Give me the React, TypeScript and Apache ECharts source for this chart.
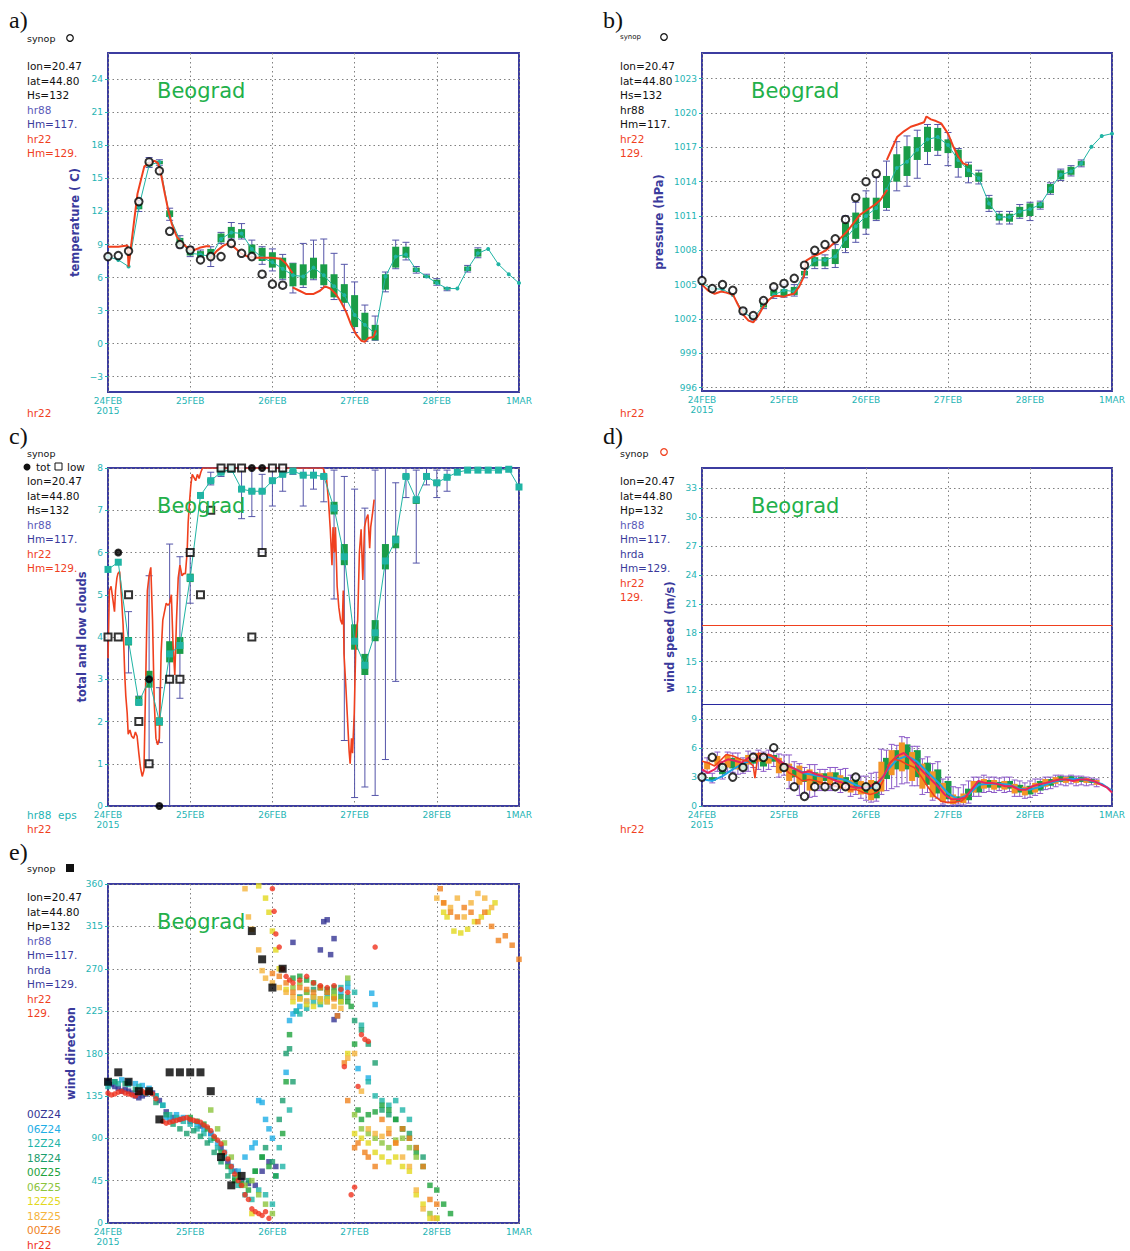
import React, { useEffect, useRef } from "react";
import * as echarts from "echarts";

// ---------- common ----------
const DAY_LABELS = ["24FEB\n2015", "25FEB", "26FEB", "27FEB", "28FEB", "1MAR"];
const STEP_HOURS = 3;

// ---------- panel a : temperature ----------
const tempTicks = [-3, 0, 3, 6, 9, 12, 15, 18, 21, 24];
const tempObs = [[0,7.9],[3,8.0],[6,8.4],[9,12.9],[12,16.5],[15,15.7],[18,10.2],[21,9.0],[24,8.5],[27,7.6],[30,7.9],[33,7.9],[36,9.1],[39,8.2],[42,7.9],[45,6.3],[48,5.4],[51,5.3]];
const tempDet = [[0,8.8],[3,8.8],[5.7,8.9],[6,7.0],[8.6,13.6],[10.6,16.1],[12.1,16.4],[13.6,16.6],[14.6,16.4],[15.6,15.2],[16.6,13.6],[17.6,12.1],[18.6,10.9],[20.1,9.7],[21.7,9.1],[23.7,8.6],[25.2,8.5],[26.7,8.7],[28.7,8.85],[29.8,8.85],null,
  [29.8,7.7],[31.7,8.4],[33.7,8.9],[35.2,9.1],[36.7,8.8],[38.8,8.2],[40.8,7.9],[42.8,7.8],[44.8,7.8],[47.8,7.8],[50.4,7.7],[51.9,7.3],[53.9,6.4],null,
  [53.9,5.1],[55.9,4.8],[57.9,4.5],[59.9,4.5],[61.9,4.8],[63.4,5.2],[64.9,5.0],[66.5,4.5],[68,3.8],[69.5,2.9],[71,1.7],[72.5,0.8],[74,0.25],[75,0.15],[76,0.5],[77.5,0.6],[78.2,1.2]];
const tempMean = [7.9,7.6,7.0,12.4,16.2,16.5,11.5,9.4,8.2,8.1,7.9,9.5,10.1,10.0,8.6,7.8,7.4,6.8,6.2,6.1,6.9,6.2,5.2,4.4,2.6,1.7,0.9,6.1,7.9,8.1,6.7,6.1,5.5,5.0,5.0,6.8,8.2,8.6,7.2,6.3,5.5];
// [hour, min, q1, q3, max]
const tempBox = [[9,12.0,12.2,12.7,13.0],[12,16.0,16.1,16.5,16.9],[15,16.2,16.3,16.6,16.7],[18,11.2,11.5,12.1,12.3],[21,8.7,8.9,9.6,9.8],[24,7.9,8.0,8.6,8.8],[27,7.8,7.9,8.4,8.5],[30,7.0,7.8,8.6,8.8],[33,9.1,9.2,10.0,10.1],[36,9.5,9.6,10.6,11.0],[39,9.5,9.6,10.4,10.9],[42,7.9,8.2,9.0,9.4],[45,7.2,7.5,8.7,8.8],[48,6.6,6.9,8.3,8.6],[51,5.8,5.9,7.8,8.1],[54,4.6,5.2,7.3,7.3],[57,5.1,5.3,7.2,9.1],[60,5.8,5.9,7.8,9.4],[63,5.1,5.3,7.2,9.5],[66,4.0,4.2,6.3,8.2],[69,3.0,3.7,5.4,7.2],[72,1.0,1.5,4.4,5.6],[75,0.2,0.3,2.8,3.5],[78,0.3,0.3,1.7,2.5],[81,4.7,4.9,6.3,6.5],[84,6.8,6.9,8.8,9.4],[87,7.6,7.8,8.8,9.2],[90,6.4,6.5,6.9,7.0],[93,6.0,6.0,6.2,6.3],[96,5.3,5.4,5.8,5.9],[99,4.8,4.9,5.1,5.1],[105,6.5,6.6,7.0,7.1],[108,7.8,7.9,8.6,8.7]];

// ---------- panel b : pressure ----------
const presTicks = [996, 999, 1002, 1005, 1008, 1011, 1014, 1017, 1020, 1023];
const presObs = [[0,1005.35],[3,1004.65],[6,1005.0],[9,1004.5],[12,1002.7],[15,1002.3],[18,1003.6],[21,1004.8],[24,1005.1],[27,1005.55],[30,1006.7],[33,1008.0],[36,1008.5],[39,1009.0],[42,1010.7],[45,1012.6],[48,1014.0],[51,1014.7]];
const presDet = [[0,1005.0],[1.7,1004.5],[3.7,1004.2],[5.6,1004.4],[7.1,1004.3],[9.1,1004.1],[10.6,1003.2],[12.1,1002.35],[13.6,1001.85],[15,1001.7],[16.5,1002.3],[18,1003.1],[19.5,1003.65],[21,1004.0],[22.5,1004.0],[24,1003.95],[25.4,1004.1],[26.9,1004.2],[28.4,1004.8],[29.8,1005.7],[30.5,1007.1],[32.4,1007.45],[34.4,1007.7],[36.3,1008.0],[38.3,1008.55],[40.3,1009.0],[42.3,1009.6],[44.3,1010.35],[46.2,1011.1],[48.2,1011.5],[50.2,1011.9],[52.2,1012.4],[54.2,1013.3],null,
  [54.1,1015.9],[55.6,1016.9],[57.1,1017.9],[59.1,1018.4],[61.1,1018.8],[63.1,1019.0],[65,1019.2],[65.7,1019.7],[67,1019.45],[68.5,1019.3],[70,1019.1],[72,1018.2],[73.5,1017.1],[75,1016.2],[76.4,1015.6],[77.9,1015.45]];
const presMean = [1005.1,1004.65,1004.6,1004.1,1002.6,1002.05,1003.2,1004.1,1004.5,1004.4,1006.0,1007.15,1007.15,1007.45,1009.0,1010.1,1011.0,1011.7,1013.3,1015.2,1015.75,1016.8,1017.7,1017.9,1017.2,1015.9,1015.0,1014.3,1012.1,1010.9,1010.9,1011.4,1011.6,1012.0,1013.4,1014.6,1014.9,1015.6,1017.05,1018.0,1018.2];
const presBox = [[12,1002.4,1002.5,1002.8,1002.9],[15,1001.9,1002.0,1002.2,1002.3],[18,1002.9,1003.0,1003.5,1003.7],[21,1003.8,1004.0,1004.5,1004.7],[24,1003.9,1004.0,1004.6,1005.0],[27,1004.0,1004.1,1004.8,1005.0],[30,1005.6,1005.8,1006.2,1006.4],[33,1006.4,1006.6,1007.4,1007.6],[36,1006.4,1006.6,1007.4,1007.6],[39,1006.5,1006.8,1008.1,1008.5],[42,1007.8,1008.2,1010.4,1011.0],[45,1008.7,1009.0,1011.3,1012.2],[48,1009.4,1009.9,1012.6,1013.2],[51,1010.6,1010.7,1012.6,1014.4],[54,1011.5,1011.7,1014.5,1015.8],[57,1013.2,1014.0,1016.4,1017.5],[60,1013.6,1014.5,1017.1,1018.0],[63,1014.3,1015.9,1017.9,1018.5],[66,1015.5,1016.6,1018.8,1019.0],[69,1016.3,1016.7,1018.7,1019.0],[72,1015.4,1016.5,1017.7,1018.3],[75,1014.4,1015.2,1016.8,1016.9],[78,1013.9,1014.4,1015.5,1015.7],[81,1013.8,1014.0,1014.8,1015.0],[84,1011.4,1011.6,1012.6,1012.8],[87,1010.3,1010.6,1011.2,1011.4],[90,1010.3,1010.5,1011.2,1011.4],[93,1010.8,1010.9,1011.8,1012.0],[96,1010.6,1011.0,1012.1,1012.2],[99,1011.6,1011.7,1012.2,1012.3],[102,1012.9,1013.0,1013.8,1013.9],[105,1014.1,1014.2,1015.0,1015.1],[108,1014.5,1014.6,1015.3,1015.4],[111,1015.3,1015.4,1015.8,1015.9]];

// ---------- panel c : clouds ----------
const cloudLowObs = [[0,4],[3,4],[6,5],[9,2],[12,1],[18,3],[21,3],[24,6],[27,5],[30,7],[33,8],[36,8],[39,8],[42,4],[45,6],[48,8],[51,8]];
const cloudTotObs = [[3,6],[12,3],[15,0],[42,8],[45,8]];
const cloudMean = [5.6,5.77,3.9,2.45,3.0,2.0,3.6,3.8,5.4,7.35,7.7,7.9,7.97,7.5,7.45,7.45,7.7,7.85,7.93,7.83,7.83,7.8,7.05,5.9,3.9,3.33,4.1,5.8,6.3,7.8,7.25,7.8,7.65,7.78,7.9,7.95,7.95,7.95,7.95,7.97,7.55];
const cloudBox = [[6,3.15,3.8,4.0,4.6],[9,2.4,2.4,2.6,2.6],[12,1.0,2.8,3.2,5.45],[15,1.5,1.9,2.1,2.8],[18,0.0,3.4,3.9,6.2],[21,2.55,3.6,4.0,5.9],[24,4.8,5.3,5.5,6.0],[30,7.6,7.65,7.75,7.9],[33,7.8,7.85,7.95,8.0],[39,6.8,7.45,7.55,8.0],[42,6.85,7.4,7.5,8.0],[45,6.0,7.4,7.5,7.85],[48,7.1,7.65,7.75,8.0],[51,7.45,7.8,7.9,8.0],[54,7.85,7.9,7.95,8.0],[57,7.1,7.8,7.87,8.0],[60,7.5,7.8,7.87,8.0],[63,7.2,7.75,7.85,8.0],[66,4.9,6.9,7.2,7.95],[69,1.55,5.7,6.2,7.8],[72,0.2,3.7,4.3,7.5],[75,0.45,3.1,3.6,7.05],[78,0.25,3.9,4.4,7.95],[81,1.1,5.6,6.2,8.0],[84,2.95,6.1,6.4,7.65],[87,7.3,7.75,7.85,8.0],[90,5.75,7.15,7.3,7.95],[93,7.6,7.75,7.85,8.0],[96,7.3,7.6,7.7,7.95],[99,7.45,7.75,7.8,7.95]];
const cloudDet = [[0,3.5],[0.4,5.1],[0.9,5.2],[1.4,4.9],[1.9,4.6],[2.2,5.1],[2.6,5.4],[2.9,5.5],[3.4,5.55],[3.9,5.0],[4.4,4.3],[4.9,3.1],[5.2,2.6],[5.6,2.2],[5.9,1.7],[6.4,1.8],[6.9,1.65],[7.5,1.6],[8.0,1.75],[8.5,1.65],[9.0,1.25],[9.5,0.9],[10.0,0.7],[10.5,0.85],[11.0,2.9],[11.5,5.1],[12.0,5.45],[12.5,5.65],[13.0,4.4],[13.5,2.45],[14.0,1.6],[14.5,1.45],[15.0,1.6],[15.5,3.6],[16.0,4.4],[16.5,4.6],[17.0,4.8],[17.5,4.75],[18.0,4.8],[18.5,5.0],[19.0,3.8],[19.5,3.1],[20.0,4.4],[20.5,5.4],[21.0,5.7],[21.6,5.45],[22.1,5.5],[22.6,5.5],[23.1,6.0],[23.4,6.7],[23.8,7.2],[24.2,7.6],[24.6,7.85],[25.6,7.7],[26.1,7.85],[26.6,7.75],[27.1,7.9],[27.6,8.0],[40,8.0],[62.8,8.0],[63.8,7.75],[64.4,7.2],[64.9,6.55],[65.4,5.7],[65.7,6.6],[66.1,6.0],[66.4,6.6],[66.9,5.2],[67.4,4.7],[67.9,4.4],[68.4,4.3],[68.7,5.1],[68.9,3.6],[69.4,2.9],[69.9,2.1],[70.4,1.3],[70.7,1.0],[71.1,1.6],[71.4,1.25],[71.9,2.2],[72.4,4.0],[72.9,4.4],[73.4,6.0],[73.9,6.55],[74.4,5.35],[74.9,6.6],[75.4,6.8],[75.9,6.9],[76.4,6.1],[76.7,6.6],[77.2,6.9],[77.7,7.25]];

// ---------- panel d : wind speed ----------
const windTicks = [0, 3, 6, 9, 12, 15, 18, 21, 24, 27, 30, 33];
const windRefRed = 18.8;
const windRefBlue = 10.6;
const windObs = [[0,3.0],[3,5.05],[6,4.0],[9,3.0],[12,4.0],[15,5.05],[18,5.05],[21,6.05],[24,4.0],[27,2.0],[30,1.0],[33,2],[36,2],[39,2],[42,2],[45,3],[48,2],[51,2]];
const windDet = [[0,4.65],[1.7,4.5],[3.7,4.15],[5.6,4.8],[7.1,5.35],[9.1,5.2],[11.6,4.8],[13.6,4.65],[15,4.15],[15.5,2.9],[16,4.3],[16.5,5.5],[18.5,5.35],[20.5,5.2],[22.5,4.5],[24,4.0],[25.4,3.45],[27.4,3.1],[29.4,2.6],[31.4,2.75],[33.4,2.6],[35.3,2.4],[37.3,2.25],[39.3,2.05],[41.3,1.9],[43.3,1.7],[45.2,1.7],[47.2,1.4],[49.2,1.2],[51.2,1.4],[53.2,2.75],null,
  [54.2,4.15],[56.1,4.85],[58.1,4.7],[60.1,4.3],[62.1,4.0],[64.1,3.1],[66,2.05],[68,1.05],[70,0.5],[72,0.35],[74,0.4],[75.9,0.5],[77.9,1.05]];
const windDa = [[0,3.8],[1.7,3.45],[3.7,3.8],[5.6,4.5],[7.6,4.85],[9.6,4.7],[11.6,4.5],[13.6,5.0],[15.5,4.85],[17.5,5.2],[19.5,5.35],[21.5,5.0],[23.5,4.5],[25.4,4.15],[27.4,3.8],[29.4,3.45],[31.4,3.6],[33.4,3.3],[35.3,3.1],[37.3,2.9],[39.3,2.6],[41.3,2.4],[43.3,2.05],[45.2,1.9],[47.2,1.9],[49.2,2.05],[51.2,2.4],[53.2,3.1],[55.1,4.5],[57.1,5.2],[59.1,5.5],[61.1,4.85],[63.1,4.15],[65,3.45],[67,2.75],[69,2.05],[71,1.2],[73,0.7],[75,0.7],[76.9,0.85],[78.9,1.7],[80.9,2.6],[82.9,2.4],[84.9,2.4],[86.8,2.25],[88.8,2.05],[90.8,2.05],[92.8,1.7],[94.8,1.7],[96.7,2.05],[98.7,2.25],[100.7,2.4],[102.7,2.6],[104.7,2.75],[106.6,2.75],[108.6,2.6],[110.6,2.75],[112.6,2.75],[114.6,2.6],[116.6,2.25],[118.6,1.9],[120,1.4]];
const windMean = [2.8,2.6,3.1,3.8,4.4,4.8,5.1,5.0,4.4,3.9,3.4,3.2,3.0,2.9,2.7,2.2,1.8,2.0,3.6,4.8,5.2,4.6,3.5,2.5,1.3,0.7,1.2,2.2,2.3,2.3,2.2,1.8,1.7,2.0,2.4,2.7,2.8,2.8,2.6,2.3,1.6];
const windBoxA = [[0,2.6,2.8,3.3,3.6],[3,2.4,2.6,3.0,3.4],[6,2.8,3.3,4.2,4.6],[9,3.5,3.9,5.0,5.5],[12,3.4,3.7,4.4,5.0],[15,4.0,4.4,5.1,5.5],[18,3.6,4.1,5.2,5.6],[21,4.1,4.6,5.3,5.7],[24,3.2,3.6,4.4,5.3],[27,2.3,3.0,3.8,4.6],[30,1.3,2.5,3.6,4.0],[33,1.0,2.4,3.5,4.3],[36,1.8,2.6,3.4,3.8],[39,2.0,2.7,3.5,4.0],[42,1.7,2.3,3.0,3.9],[45,1.2,1.8,2.8,3.2],[48,0.6,1.3,2.4,3.1],[51,0.5,0.8,2.6,3.5],[54,1.6,2.8,5.0,5.8],[57,2.0,3.8,5.8,6.3],[60,2.4,3.8,6.4,7.1],[63,2.1,3.0,5.8,6.2],[66,1.4,2.2,4.5,5.1],[69,0.8,1.3,3.8,4.6],[72,0.4,0.7,2.6,3.0],[75,0.2,0.4,1.0,1.9],[78,0.3,0.6,1.8,2.6],[81,1.0,1.4,2.6,3.0],[84,1.5,1.9,2.7,3.0],[87,1.6,1.9,2.5,2.9],[90,1.5,1.8,2.6,3.0],[93,1.0,1.4,2.2,2.6],[96,0.9,1.2,2.1,2.6],[99,1.3,1.6,2.6,2.8],[102,1.8,2.1,2.8,3.0],[105,2.2,2.5,3.1,3.2],[108,2.3,2.6,3.1,3.2],[111,2.2,2.5,3.0,3.1],[114,2.2,2.4,2.8,2.9]];
const windBoxB = [[1.5,3.4,3.8,4.6,5.0],[4.5,3.6,4.2,5.2,5.6],[7.5,3.6,4.0,5.3,5.6],[10.5,3.3,3.8,5.0,5.5],[13.5,3.6,4.3,5.3,5.7],[16.5,3.8,4.6,5.5,5.8],[19.5,3.8,4.4,5.4,5.8],[22.5,3.0,3.4,5.0,5.4],[25.5,1.8,2.6,4.4,5.3],[28.5,1.1,2.2,4.2,4.4],[31.5,0.9,1.6,3.8,4.3],[34.5,1.6,2.2,3.4,3.8],[37.5,1.6,2.3,3.5,4.0],[40.5,1.4,1.8,3.2,3.8],[43.5,1.0,1.4,2.7,3.2],[46.5,0.8,1.2,2.6,3.1],[49.5,0.4,0.6,2.7,3.4],[52.5,1.2,1.5,4.6,5.9],[55.5,1.8,3.2,5.8,6.4],[58.5,2.3,3.6,6.6,7.2],[61.5,2.1,2.6,5.6,6.2],[64.5,1.2,1.8,4.4,4.9],[67.5,0.6,0.9,3.6,4.4],[70.5,0.2,0.4,2.4,2.8],[73.5,0.1,0.2,1.2,2.0],[76.5,0.1,0.3,1.3,2.2],[79.5,1.0,1.4,2.6,3.0],[82.5,1.4,1.8,2.8,3.2],[85.5,1.4,1.7,2.7,3.0],[88.5,1.4,1.7,2.6,3.0],[91.5,1.0,1.3,2.3,2.7],[94.5,0.8,1.1,2.0,2.4],[97.5,1.1,1.4,2.4,2.8],[100.5,1.7,2.0,2.8,3.0],[103.5,2.0,2.3,3.0,3.2],[106.5,2.1,2.4,3.0,3.1],[109.5,2.1,2.4,2.9,3.1],[112.5,2.1,2.4,2.9,3.0],[115.5,2.0,2.2,2.7,2.8]];

// ---------- panel e : wind direction ----------
const runNames = ["00Z24","06Z24","12Z24","18Z24","00Z25","06Z25","12Z25","18Z25","00Z26","hr22"];
const runColors = ["#343494","#1eaee6","#1eb4a8","#1a9e6e","#1ea23c","#8cc43c","#e2d81e","#f5b43c","#f0821e","#f0321e"];
const dir00Z24 = [[0,150],[1,147],[2,145],[3,143],[4,140],[5,142],[6,140],[7,138],[8,135],[9,133],[10,135],[11,137],[12,140],[13,138],[15,130],[17,118],[19,112],[21,110],[24,108],[27,103],[30,95],[33,80],[35,65],[37,55],[39,45],[41,42],[43,40],[45,55],[47,65],[49,60],[54,298],[62,290],[63,320],[64,322],[65,285],[66,302],[66,216],[67,220]];
const dir06Z24 = [[0,148],[2,150],[4,152],[6,150],[8,148],[10,146],[12,143],[14,135],[16,125],[17,112],[18,110],[20,115],[22,112],[24,110],[26,105],[28,100],[30,95],[32,85],[34,75],[36,60],[38,55],[40,70],[42,80],[43,85],[44,130],[45,128],[46,110],[47,100],[48,90],[49,50],[52,160],[53,215],[54,222],[55,225],[56,230],[58,235],[60,240],[62,235],[64,238],[66,240],[68,245],[70,250],[73,164],[76,154],[77,244],[78,232]];
const dir12Z24 = [[0,145],[3,148],[6,147],[9,145],[12,140],[14,135],[16,125],[18,115],[20,112],[22,108],[24,105],[26,100],[28,95],[30,88],[32,80],[34,70],[36,55],[38,40],[40,30],[42,25],[44,35],[46,30],[48,20],[50,80],[51,60],[53,120],[55,225],[56,222],[58,228],[60,235],[62,232],[64,240],[66,245],[68,250],[70,255],[72,245],[74,210],[76,150],[78,135],[80,130],[82,125],[84,130],[86,120],[88,110]];
const dir18Z24 = [[2,150],[5,148],[8,142],[11,138],[14,128],[17,115],[19,105],[21,100],[23,95],[25,98],[27,92],[29,85],[31,75],[33,65],[35,50],[37,48],[39,40],[41,45],[43,55],[45,70],[46,80],[48,65],[50,110],[51,130],[52,180],[53,185],[54,150],[56,240],[58,245],[60,248],[62,250],[64,245],[66,240],[68,235],[70,240],[72,215],[74,205],[76,190],[78,170],[80,120],[82,115],[84,110],[86,100],[88,95],[90,80],[92,70]];
const dir00Z25 = [[24,112],[26,108],[28,105],[29,100],[31,90],[33,75],[35,60],[37,45],[39,42],[41,35],[43,55],[45,70],[47,60],[49,50],[51,95],[52,150],[53,200],[54,260],[56,262],[58,258],[60,255],[62,250],[64,248],[66,250],[68,240],[70,235],[71,230],[72,190],[73,120],[74,110],[76,115],[78,118],[80,125],[82,120],[84,110],[86,100],[88,90],[90,75],[92,60],[94,40],[96,35],[98,20],[100,10]];
const dir06Z25 = [[30,120],[32,100],[34,85],[36,70],[38,50],[40,40],[42,45],[44,30],[46,20],[48,10],[54,250],[56,255],[58,245],[60,240],[62,238],[64,235],[66,245],[70,260],[72,115],[74,100],[76,95],[78,90],[80,85],[82,80],[84,88],[86,90],[88,80],[90,70],[94,10],[96,5]];
const dir12Z25 = [[42,10],[44,358],[46,345],[47,330],[48,310],[49,290],[50,270],[52,248],[54,235],[56,238],[58,232],[60,230],[62,235],[64,238],[66,240],[68,235],[70,180],[72,95],[74,90],[76,85],[78,75],[80,70],[82,65],[84,70],[86,60],[88,55],[90,30],[92,20],[94,5],[96,5],[98,330],[99,325],[101,310],[103,308],[105,312],[107,320],[109,325],[111,330],[113,340]];
const dir18Z25 = [[40,355],[41,325],[42,312],[44,290],[45,268],[46,260],[48,255],[50,250],[52,245],[54,240],[56,238],[58,236],[60,240],[62,238],[64,235],[66,230],[68,228],[70,175],[72,180],[74,140],[76,100],[78,95],[80,92],[82,100],[84,85],[86,70],[88,60],[90,35],[92,15],[95,5],[96,345],[98,340],[100,335],[102,345],[104,325],[106,340],[108,350],[110,345],[112,335]];
const dir00Z26 = [[48,265],[50,262],[52,255],[54,245],[56,250],[58,248],[60,245],[62,250],[64,245],[66,238],[67,220],[69,170],[70,130],[72,80],[73,85],[75,75],[76,70],[78,60],[80,110],[82,95],[84,85],[86,100],[88,90],[90,80],[92,60],[94,25],[96,20],[97,355],[98,340],[100,330],[102,325],[104,335],[106,330],[108,320],[110,330],[112,315],[114,300],[116,305],[118,295],[120,280]];
const dirHr22 = [[0,138],[1,136],[2,137],[3,139],[4,140],[5,138],[6,137],[7,136],[8,135],[9,138],[10,140],[11,138],[12,139],[13,137],[14,132],[16,108],[17,106],[18,107],[19,108],[20,109],[21,110],[22,111],[23,112],[24,110],[25,109],[26,108],[27,107],[28,104],[29,102],[30,98],[31,92],[32,88],[33,84],[34,75],[35,68],[36,60],[37,52],[38,45],[39,40],[40,30],[41,25],[42,15],[43,12],[44,10],[45,8],[46,12],[47,5],[48,355],[48.5,331],[49,307],[50,293],[51,270],[52,262],[53,258],[54,255],[56,258],[58,262],[60,255],[62,252],[64,250],[66,252],[68,248],[70,245],[69,166],[71,30],[72,38],[73,145],[74,200],[75,195],[76,193],[78,293]];
const dirRuns = [dir00Z24, dir06Z24, dir12Z24, dir18Z24, dir00Z25, dir06Z25, dir12Z25, dir18Z25, dir00Z26, dirHr22];
const dirObs = [[0,150],[3,160],[6,150],[9,140],[12,140],[15,110],[18,160],[21,160],[24,160],[27,160],[30,140],[33,70],[36,40],[39,50],[42,310],[45,280],[48,250],[51,270]];

// ---------- styling ----------
const FONT = '"DejaVu Sans", sans-serif';
const TEAL = "#1eb4b4";
const NAVY = "#3a3a9c";
const BORDER = "#3c3ca0";
const GRID_GRAY = "#808080";
const RED = "#f0401e";
const LAV = "#5a5ab8";
const GREEN_BOX = "#1a9c48";
const MEAN_LINE = "#20b4a4";
const WHISK = "#5454a8";

const grids = [
  { left: 108, top: 53, width: 411, height: 339 },
  { left: 702, top: 53, width: 410, height: 338 },
  { left: 108, top: 468, width: 411, height: 338 },
  { left: 702, top: 468, width: 410, height: 338 },
  { left: 108, top: 884, width: 411, height: 339 },
];

function splitSegments(arr) {
  const out = [];
  let cur = [];
  arr.forEach((p) => {
    if (p === null) { if (cur.length) out.push(cur); cur = []; }
    else cur.push(p);
  });
  if (cur.length) out.push(cur);
  return out;
}

function boxSeries(idx, data, boxColor, whiskColor, halfW, capW, z) {
  return {
    type: "custom",
    xAxisIndex: idx,
    yAxisIndex: idx,
    data,
    clip: true,
    z,
    encode: { x: 0, y: [1, 2, 3, 4] },
    renderItem: (params, api) => {
      const h = api.value(0);
      const lo = api.coord([h, api.value(1)]);
      const q1 = api.coord([h, api.value(2)]);
      const q3 = api.coord([h, api.value(3)]);
      const hi = api.coord([h, api.value(4)]);
      const x = lo[0];
      const ws = { stroke: whiskColor, lineWidth: 1 };
      return {
        type: "group",
        children: [
          { type: "line", shape: { x1: x, y1: lo[1], x2: x, y2: hi[1] }, style: ws },
          { type: "line", shape: { x1: x - capW, y1: lo[1], x2: x + capW, y2: lo[1] }, style: ws },
          { type: "line", shape: { x1: x - capW, y1: hi[1], x2: x + capW, y2: hi[1] }, style: ws },
          { type: "rect", shape: { x: x - halfW, y: q3[1], width: halfW * 2, height: Math.max(1, q1[1] - q3[1]) }, style: { fill: boxColor } },
        ],
      };
    },
  };
}

function lineSeries(idx, data, color, width, z, extra = {}) {
  return {
    type: "line", xAxisIndex: idx, yAxisIndex: idx, data, z,
    showSymbol: false, symbol: "none",
    lineStyle: { color, width }, itemStyle: { color },
    ...extra,
  };
}

function meanSeries(idx, values, symbol, size) {
  return {
    type: "line", xAxisIndex: idx, yAxisIndex: idx, z: 4,
    data: values.map((v, i) => [i * STEP_HOURS, v]),
    symbol, symbolSize: size, showSymbol: true,
    lineStyle: { color: MEAN_LINE, width: 1 },
    itemStyle: { color: MEAN_LINE },
  };
}

function obsSeries(idx, data, symbol, size, fill, stroke, z = 6) {
  return {
    type: "scatter", xAxisIndex: idx, yAxisIndex: idx, data, z,
    symbol, symbolSize: size,
    itemStyle: { color: fill, borderColor: stroke, borderWidth: 2 },
  };
}

function xAxis(idx) {
  return {
    type: "value", gridIndex: idx, min: 0, max: 120, interval: 24,
    axisLine: { show: false }, axisTick: { show: false },
    axisLabel: {
      color: TEAL, fontSize: 9, fontFamily: FONT, margin: 4, lineHeight: 10,
      formatter: (v) => DAY_LABELS[Math.round(v / 24)] ?? "",
    },
    splitLine: { show: true, lineStyle: { color: GRID_GRAY, type: [1.5, 3], width: 1 } },
  };
}

function yAxis(idx, min, max, name, nameGap, ticks, interval) {
  const ax = {
    type: "value", gridIndex: idx, min, max,
    name, nameLocation: "middle", nameGap, nameRotate: 90,
    nameTextStyle: { color: NAVY, fontWeight: "bold", fontSize: 11.5, fontFamily: FONT },
    axisLine: { show: false },
    axisTick: { show: true, length: 3, lineStyle: { color: TEAL } },
    axisLabel: {
      color: TEAL, fontSize: 9, fontFamily: FONT, margin: 5,
      formatter: (v) => String(v).replace("-", "\u2212"),
    },
    splitLine: { show: true, lineStyle: { color: GRID_GRAY, type: [1.5, 3], width: 1 } },
  };
  if (ticks) {
    ax.axisLabel.customValues = ticks;
    ax.axisTick.customValues = ticks;
  } else {
    ax.interval = interval;
  }
  return ax;
}

function txt(x, y, text, fill, size = 10.5, extra = {}) {
  return {
    type: "text", x, y, silent: true, z: 100,
    style: { text, fill, fontSize: size, fontFamily: FONT, verticalAlign: "middle", ...extra },
  };
}

function panelLabel(x, y, s) {
  return txt(x, y, s, "#111", 24, { fontFamily: '"Liberation Serif", "DejaVu Serif", serif' });
}

function buildGraphic() {
  const g = [];
  // panel a
  g.push(panelLabel(9, 20, "a)"));
  g.push(txt(27, 38, "synop", "#111", 9.5));
  g.push({ type: "circle", shape: { cx: 70, cy: 38, r: 3.3 }, style: { fill: "none", stroke: "#111", lineWidth: 1.2 }, z: 100 });
  [["lon=20.47", "#111"], ["lat=44.80", "#111"], ["Hs=132", "#111"], ["hr88", LAV], ["Hm=117.", NAVY], ["hr22", RED], ["Hm=129.", RED]]
    .forEach(([t, c], i) => g.push(txt(27, 66 + i * 14.5, t, c)));
  g.push(txt(27, 413, "hr22", RED));
  g.push(txt(157, 91, "Beograd", "#22b04a", 21, { letterSpacing: 1 }));
  // panel b
  g.push(panelLabel(603, 20, "b)"));
  g.push(txt(620, 37, "synop", "#111", 7));
  g.push({ type: "circle", shape: { cx: 664, cy: 37, r: 3.3 }, style: { fill: "none", stroke: "#111", lineWidth: 1.2 }, z: 100 });
  [["lon=20.47", "#111"], ["lat=44.80", "#111"], ["Hs=132", "#111"], ["hr88", "#111"], ["Hm=117.", "#111"], ["hr22", RED], ["129.", RED]]
    .forEach(([t, c], i) => g.push(txt(620, 66 + i * 14.5, t, c)));
  g.push(txt(620, 413, "hr22", RED));
  g.push(txt(751, 91, "Beograd", "#22b04a", 21, { letterSpacing: 1 }));
  // panel c
  g.push(panelLabel(9, 436, "c)"));
  g.push(txt(27, 453, "synop", "#111", 9.5));
  g.push({ type: "circle", shape: { cx: 27, cy: 467, r: 3.5 }, style: { fill: "#111" }, z: 100 });
  g.push(txt(36, 467, "tot", "#111"));
  g.push({ type: "rect", shape: { x: 55, y: 463, width: 7, height: 7 }, style: { fill: "none", stroke: "#111", lineWidth: 1 }, z: 100 });
  g.push(txt(67, 467, "low", "#111"));
  [["lon=20.47", "#111"], ["lat=44.80", "#111"], ["Hs=132", "#111"], ["hr88", LAV], ["Hm=117.", NAVY], ["hr22", RED], ["Hm=129.", RED]]
    .forEach(([t, c], i) => g.push(txt(27, 481 + i * 14.5, t, c)));
  g.push(txt(27, 815, "hr88  eps", TEAL));
  g.push(txt(27, 829, "hr22", RED));
  g.push(txt(157, 506, "Beograd", "#22b04a", 21, { letterSpacing: 1 }));
  // panel d
  g.push(panelLabel(603, 436, "d)"));
  g.push(txt(620, 453, "synop", "#111", 9.5));
  g.push({ type: "circle", shape: { cx: 664, cy: 452, r: 3.3 }, style: { fill: "none", stroke: RED, lineWidth: 1.2 }, z: 100 });
  [["lon=20.47", "#111"], ["lat=44.80", "#111"], ["Hp=132", "#111"], ["hr88", LAV], ["Hm=117.", NAVY], ["hrda", NAVY], ["Hm=129.", NAVY], ["hr22", RED], ["129.", RED]]
    .forEach(([t, c], i) => g.push(txt(620, 481 + i * 14.5, t, c)));
  g.push(txt(620, 829, "hr22", RED));
  g.push(txt(751, 506, "Beograd", "#22b04a", 21, { letterSpacing: 1 }));
  // panel e
  g.push(panelLabel(9, 852, "e)"));
  g.push(txt(27, 868, "synop", "#111", 9.5));
  g.push({ type: "rect", shape: { x: 66, y: 864, width: 8, height: 8 }, style: { fill: "#111" }, z: 100 });
  [["lon=20.47", "#111"], ["lat=44.80", "#111"], ["Hp=132", "#111"], ["hr88", LAV], ["Hm=117.", NAVY], ["hrda", NAVY], ["Hm=129.", NAVY], ["hr22", RED], ["129.", RED]]
    .forEach(([t, c], i) => g.push(txt(27, 897 + i * 14.5, t, c)));
  runNames.forEach((n, i) => g.push(txt(27, 1114 + i * 14.5, n, runColors[i])));
  g.push(txt(157, 922, "Beograd", "#22b04a", 21, { letterSpacing: 1 }));
  return g;
}

function buildOption() {
  const series = [];
  // a
  series.push(boxSeries(0, tempBox, GREEN_BOX, WHISK, 3.5, 3.5, 2));
  series.push(meanSeries(0, tempMean, "circle", 4));
  splitSegments(tempDet).forEach((s) => series.push(lineSeries(0, s, RED, 2, 5)));
  series.push(obsSeries(0, tempObs, "circle", 7.5, "#fff", "#000"));
  // b
  series.push(boxSeries(1, presBox, GREEN_BOX, WHISK, 3.5, 3.5, 2));
  series.push(meanSeries(1, presMean, "circle", 4));
  splitSegments(presDet).forEach((s) => series.push(lineSeries(1, s, RED, 2, 5)));
  series.push(obsSeries(1, presObs, "circle", 7.5, "#fff", "#000"));
  // c
  series.push(boxSeries(2, cloudBox, GREEN_BOX, WHISK, 3.5, 3.5, 2));
  series.push(lineSeries(2, cloudDet, RED, 1.6, 3));
  series.push(meanSeries(2, cloudMean, "rect", 7));
  series.push(obsSeries(2, cloudLowObs, "rect", 7, "#fff", "#000"));
  series.push(obsSeries(2, cloudTotObs, "circle", 6, "#000", "#000", 7));
  // d
  series.push(boxSeries(3, windBoxA, GREEN_BOX, "#8c5ac8", 3.5, 3, 2));
  series.push(boxSeries(3, windBoxB, "#f39325", "#8c5ac8", 3, 3, 3));
  series.push({
    type: "line", xAxisIndex: 3, yAxisIndex: 3, z: 4, symbol: "none",
    data: windMean.map((v, i) => [i * STEP_HOURS, v]),
    lineStyle: { color: "#1ea0e6", width: 2 },
  });
  series.push(lineSeries(3, windDa, "#e8245e", 2, 5));
  splitSegments(windDet).forEach((s) => series.push(lineSeries(3, s, RED, 1.6, 5)));
  series.push(obsSeries(3, windObs, "circle", 7.5, "#fff", "#000"));
  series.push({
    type: "line", xAxisIndex: 3, yAxisIndex: 3, data: [], z: 4,
    markLine: {
      silent: true, symbol: "none", label: { show: false },
      data: [
        { yAxis: windRefRed, lineStyle: { color: RED, type: "solid", width: 1 } },
        { yAxis: windRefBlue, lineStyle: { color: "#2828a0", type: "solid", width: 1 } },
      ],
    },
  });
  // e
  dirRuns.forEach((d, i) => {
    series.push({
      type: "scatter", xAxisIndex: 4, yAxisIndex: 4, data: d, z: 3 + i * 0.1,
      symbol: i === 9 ? "circle" : "rect", symbolSize: 5.5,
      itemStyle: { color: runColors[i] },
    });
  });
  series.push({
    type: "scatter", xAxisIndex: 4, yAxisIndex: 4, data: dirObs, z: 6,
    symbol: "rect", symbolSize: 8, itemStyle: { color: "#000" },
  });

  return {
    animation: false,
    backgroundColor: "#fff",
    textStyle: { fontFamily: FONT },
    grid: grids.map((g) => ({ ...g, show: true, borderColor: BORDER, borderWidth: 2, backgroundColor: "transparent", containLabel: false })),
    xAxis: [0, 1, 2, 3, 4].map(xAxis),
    yAxis: [
      yAxis(0, -4.4, 26.4, "temperature ( C)", 27, tempTicks),
      yAxis(1, 995.7, 1025.25, "pressure (hPa)", 37, presTicks),
      yAxis(2, 0, 8, "total and low clouds", 20, null, 1),
      yAxis(3, 0, 35.1, "wind speed (m/s)", 26, windTicks),
      yAxis(4, 0, 360, "wind direction", 31, null, 45),
    ],
    series,
    graphic: buildGraphic(),
  };
}

export default function App() {
  const ref = useRef(null);
  useEffect(() => {
    const chart = echarts.init(ref.current, null, { renderer: "svg" });
    chart.setOption(buildOption());
    return () => chart.dispose();
  }, []);
  return (
    <div
      ref={ref}
      style={{ position: "absolute", left: 0, top: 0, width: 1130, height: 1251, background: "#fff" }}
    />
  );
}
